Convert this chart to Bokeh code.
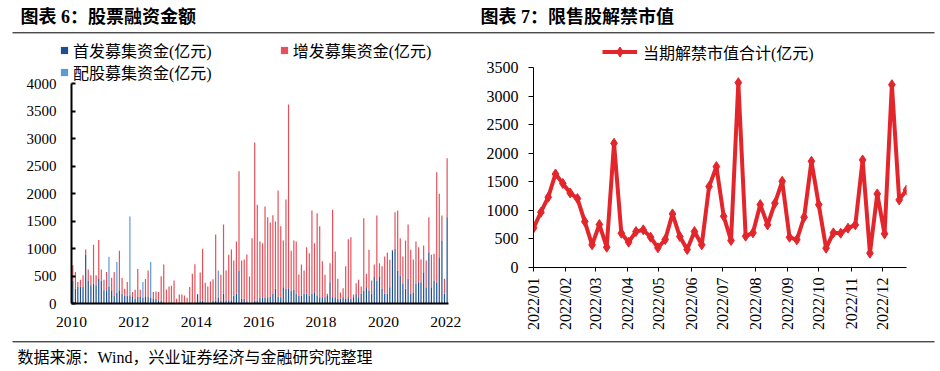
import math
import pandas as pd
from bokeh.plotting import figure
from bokeh.models import (ColumnDataSource, Range1d, Label, Legend, LegendItem, FixedTicker,
                          DatetimeTickFormatter, SingleIntervalTicker)
from bokeh.embed import file_html
from bokeh.resources import INLINE

MIX = "Liberation Serif, Noto Sans CJK SC"
SERIF = "Liberation Serif"

# ---------------- data: chart 6 (monthly, 2010-01 .. 2022-01) ----------------
month_start = "2010-01-01"
n_months = 145
year_labels = ["2010", "2012", "2014", "2016", "2018", "2020", "2022"]
ipo = [420, 268, 310, 310, 300, 880, 420, 330, 360, 330, 450, 420,
       240, 240, 300, 240, 146, 200, 240, 177, 146, 146, 150, 116,
       85, 116, 116, 100, 116, 116, 100, 80, 80, 60, 50, 0,
       0, 0, 0, 0, 0, 0, 0, 0, 0, 0, 0, 0,
       170, 55, 55, 20, 20, 20, 55, 55, 100, 55, 176, 55,
       60, 60, 145, 176, 600, 85, 85, 40, 20, 20, 55, 55,
       100, 100, 100, 100, 120, 176, 267, 127, 115, 297, 267, 279,
       236, 248, 176, 145, 145, 176, 176, 145, 176, 206, 145, 115,
       115, 115, 150, 388, 115, 115, 85, 85, 115, 85, 115, 85,
       115, 176, 115, 176, 236, 297, 236, 176, 480, 418, 480, 267,
       176, 176, 297, 964, 994, 600, 509, 358, 267, 448, 176, 206,
       358, 388, 388, 570, 297, 933, 297, 418, 388, 842, 1145, 176,
       1570]
seo = [275, 305, 80, 123, 212, 102, 196, 182, 707, 182, 703, 196,
       193, 333, 0, 230, 427, 0, 718, 287, 122, 244, 0, 91,
       165, 512, 134, 0, 329, 484, 0, 127, 140, 147, 444, 708,
       256, 311, 323, 420, 85, 165, 165, 146, 104, 299, 543, 714,
       0, 509, 939, 356, 289, 380, 387, 1199, 0, 466, 1260, 545,
       825, 922, 637, 951, 1806, 697, 715, 851, 471, 1168, 2872, 1739,
       1027, 997, 1663, 1470, 1353, 1430, 1224, 1927, 1291, 848, 1623, 3339,
       721, 897, 951, 382, 564, 424, 848, 770, 1514, 891, 1497, 1288,
       652, 406, 26, 345, 1588, 830, 363, 115, 164, 594, 1055, 1121,
       49, 194, 315, 133, 1315, 242, 740, 242, 229, 1182, 253, 412,
       679, 745, 497, 12, 666, 1090, 679, 497, 878, 988, 800, 594,
       769, 636, 412, 484, 485, 637, 588, 485, 2000, 1152, 455, 272,
       1072]
rights = [0, 0, 0, 0, 0, 0, 0, 0, 0, 0, 0, 0,
          0, 0, 548, 0, 0, 556, 0, 0, 0, 0, 1430, 0,
          0, 0, 0, 290, 0, 0, 656, 0, 0, 0, 0, 0,
          0, 0, 0, 0, 0, 0, 0, 0, 0, 0, 0, 0,
          0, 0, 0, 0, 0, 0, 0, 0, 500, 0, 0, 0] + [0] * 85

# ---------------- data: chart 7 (weekly, 2022) ----------------
week_start = "2022-01-01"
unlock = [693, 967, 1230, 1637, 1470, 1305, 1206, 804, 396, 752, 355, 2174,
          600, 443, 629, 659, 530, 344, 490, 938, 542, 315, 629, 396,
          1416, 1766, 897, 472, 3234, 548, 606, 1101, 746, 1125, 1509, 530,
          484, 880, 1859, 1100, 338, 606, 600, 688, 746, 1882, 251, 1288,
          589, 3199, 1183, 1358]

# texts
title6 = "图表 6：股票融资金额"
title7 = "图表 7：限售股解禁市值"
source_text = "数据来源：Wind，兴业证券经济与金融研究院整理"
name_ipo = "首发募集资金(亿元)"
name_seo = "增发募集资金(亿元)"
name_rights = "配股募集资金(亿元)"
name_unlock = "当期解禁市值合计(亿元)"

C_IPO = "#1F4E8F"
C_SEO = "#E5505A"
C_RIGHTS = "#5B9BD5"
C_LINE = "#E3262B"

W, H = 940, 371
OFF = -1000  # legend proxies sit off the page

# ======================= background page (titles, rules, legends, source) =======================
decor = figure(width=W, height=H, x_range=Range1d(0, W), y_range=Range1d(H, 0),
               output_backend="svg", toolbar_location=None,
               x_axis_location=None, y_axis_location=None,
               min_border_left=0, min_border_right=0, min_border_top=0, min_border_bottom=0)
decor.outline_line_color = None
decor.grid.visible = False
decor.background_fill_color = "white"
decor.border_fill_color = "white"

RULE_X = (12, 934)
RULE_Y = (32.3, 341.3)
decor.segment(x0=[RULE_X[0]] * 2, y0=list(RULE_Y), x1=[RULE_X[1]] * 2, y1=list(RULE_Y),
              line_color="black", line_width=1)

for tx, txt in ((20, title6), (480, title7)):
    decor.add_layout(Label(x=tx, y=16.3, text=txt, text_font=MIX, text_font_size="18px",
                           text_font_style="bold", text_baseline="middle", text_color="black"))
decor.add_layout(Label(x=17, y=357, text=source_text, text_font=MIX, text_font_size="16px",
                       text_baseline="middle", text_color="black"))

# legend proxies (one point each, placed off the page)
lg_ipo = decor.scatter(x=[OFF], y=[OFF], marker="square", fill_color=C_IPO, line_color=None)
lg_seo = decor.scatter(x=[OFF], y=[OFF], marker="square", fill_color=C_SEO, line_color=None)
lg_rights = decor.scatter(x=[OFF], y=[OFF], marker="square", fill_color=C_RIGHTS, line_color=None)
lg_line = decor.line(x=[OFF, OFF - 1], y=[OFF, OFF], line_color=C_LINE, line_width=4)
lg_mark = decor.scatter(x=[OFF], y=[OFF], marker="diamond", size=10, fill_color=C_LINE, line_color=C_LINE)

def style_legend(lg):
    lg.padding = 0
    lg.margin = 0
    lg.border_line_color = None
    lg.background_fill_alpha = 0
    lg.label_text_font = MIX
    lg.label_text_font_size = "16px"
    lg.label_text_color = "black"
    return lg

# location = (left, distance of legend bottom above page bottom)
leg1 = style_legend(Legend(items=[LegendItem(label=name_ipo, renderers=[lg_ipo], index=0),
                                  LegendItem(label=name_seo, renderers=[lg_seo], index=0)],
                           orientation="horizontal", location=(55, H - 61.7),
                           glyph_width=18, glyph_height=24, label_height=24, label_standoff=-1,
                           spacing=63))
leg2 = style_legend(Legend(items=[LegendItem(label=name_rights, renderers=[lg_rights], index=0)],
                           orientation="horizontal", location=(55, H - 84),
                           glyph_width=18, glyph_height=24, label_height=24, label_standoff=-1))
leg3 = style_legend(Legend(items=[LegendItem(label=name_unlock, renderers=[lg_line, lg_mark], index=0)],
                           orientation="horizontal", location=(602, H - 64.2),
                           glyph_width=35, glyph_height=25, label_height=25, label_standoff=6))
for lg in (leg1, leg2, leg3):
    decor.add_layout(lg, "center")

# ======================= left chart =======================
mstarts = pd.date_range(month_start, periods=n_months, freq="MS")
mid = mstarts + pd.Timedelta(days=15)
src1 = ColumnDataSource(dict(x=mid, ipo=ipo, seo=seo, rights=rights))

p1 = figure(width=470, height=H, x_axis_type="datetime",
            x_range=Range1d(mstarts[0], mstarts[-1] + pd.Timedelta(days=31)),
            y_range=Range1d(0, 4000),
            output_backend="svg", toolbar_location=None,
            min_border_left=71, min_border_right=22, min_border_top=83, min_border_bottom=68,
            styles={"position": "absolute", "left": "0px", "top": "0px"})
p1.outline_line_color = None
p1.grid.visible = False
p1.background_fill_color = None
p1.border_fill_color = None

p1.vbar_stack(["ipo", "seo", "rights"], x="x", width=pd.Timedelta(days=14).total_seconds() * 1000,
              fill_color=[C_IPO, C_SEO, C_RIGHTS], line_color=None, source=src1)

year_ticks = [pd.Timestamp(y + "-01-01").timestamp() * 1000 for y in year_labels]
p1.xaxis.ticker = FixedTicker(ticks=year_ticks)
p1.xaxis.formatter = DatetimeTickFormatter(years="%Y", months="%Y", days="%Y")
p1.xaxis.major_tick_in = 0
p1.xaxis.major_tick_out = 0
p1.xaxis.minor_tick_in = 0
p1.xaxis.minor_tick_out = 0
p1.xaxis.axis_line_width = 2
p1.xaxis.axis_line_color = "black"
p1.xaxis.major_label_standoff = 13
p1.xaxis.major_label_text_font = SERIF
p1.xaxis.major_label_text_font_size = "15.5px"
p1.xaxis.major_label_text_color = "black"

p1.yaxis.ticker = SingleIntervalTicker(interval=500)
p1.yaxis.major_tick_in = 4
p1.yaxis.major_tick_out = 0
p1.yaxis.major_tick_line_width = 2
p1.yaxis.minor_tick_in = 0
p1.yaxis.minor_tick_out = 0
p1.yaxis.axis_line_width = 2
p1.yaxis.axis_line_color = "black"
p1.yaxis.major_label_standoff = 15
p1.yaxis.major_label_text_font = SERIF
p1.yaxis.major_label_text_font_size = "15px"
p1.yaxis.major_label_text_color = "black"

# ======================= right chart =======================
weeks = pd.date_range(week_start, periods=len(unlock), freq="7D")
src2 = ColumnDataSource(dict(d=weeks, v=unlock))

p2 = figure(width=470, height=H, x_axis_type="datetime",
            x_range=Range1d(weeks[0] - pd.Timedelta(hours=2), weeks[-1]), y_range=Range1d(0, 3500),
            output_backend="svg", toolbar_location=None,
            min_border_left=63, min_border_right=34, min_border_top=67, min_border_bottom=104,
            styles={"position": "absolute", "left": "470px", "top": "0px"})
p2.outline_line_color = None
p2.grid.visible = False
p2.background_fill_color = None
p2.border_fill_color = None

p2.line(x="d", y="v", source=src2, line_color=C_LINE, line_width=4)
p2.scatter(x="d", y="v", source=src2, marker="diamond", size=10,
           fill_color=C_LINE, line_color=C_LINE)

month_ticks = [t.timestamp() * 1000 for t in pd.date_range(week_start, periods=12, freq="MS")]
p2.xaxis.ticker = FixedTicker(ticks=month_ticks)
p2.xaxis.formatter = DatetimeTickFormatter(months="%Y/%m", days="%Y/%m", years="%Y/%m", hours="%Y/%m")
p2.xaxis.major_label_orientation = math.pi / 2
p2.xaxis.major_tick_in = 0
p2.xaxis.major_tick_out = 4
p2.xaxis.minor_tick_in = 0
p2.xaxis.minor_tick_out = 0
p2.xaxis.major_label_standoff = 6
p2.xaxis.major_label_text_font = SERIF
p2.xaxis.major_label_text_font_size = "16px"
p2.xaxis.major_label_text_color = "black"
p2.xaxis.axis_line_color = "black"

p2.yaxis.ticker = SingleIntervalTicker(interval=500)
p2.yaxis.major_tick_in = 0
p2.yaxis.major_tick_out = 5
p2.yaxis.minor_tick_in = 0
p2.yaxis.minor_tick_out = 0
p2.yaxis.major_label_standoff = 10
p2.yaxis.major_label_text_font = SERIF
p2.yaxis.major_label_text_font_size = "16px"
p2.yaxis.major_label_text_color = "black"
p2.yaxis.axis_line_color = "black"

open("out.html", "w").write(file_html([decor, p1, p2], INLINE))
